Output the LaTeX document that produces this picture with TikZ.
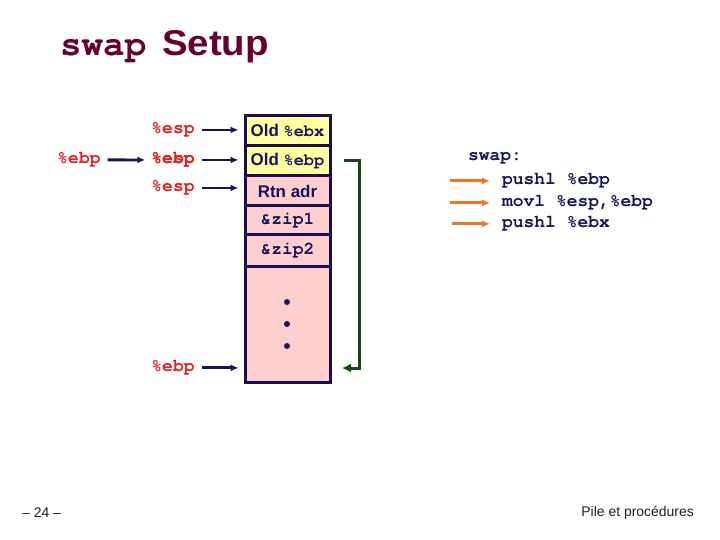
\documentclass[tikz,border=0pt]{standalone}
\usepackage{fontspec}
\setmainfont{Liberation Sans}
\setmonofont{TeX Gyre Cursor}
\usetikzlibrary{arrows.meta}
\definecolor{navy}{RGB}{20,20,90}
\definecolor{boxline}{RGB}{25,15,80}
\definecolor{lblred}{RGB}{228,30,30}
\definecolor{titlemaroon}{RGB}{102,0,51}
\definecolor{cellyellow}{RGB}{255,255,160}
\definecolor{cellpink}{RGB}{255,206,206}
\definecolor{dgreen}{RGB}{20,70,15}
\definecolor{orangearr}{RGB}{232,120,40}
\definecolor{foot}{RGB}{40,25,40}
\begin{document}
\begin{tikzpicture}[x=1bp,y=-1bp,
 cell/.style={draw=boxline, line width=3bp, minimum width=85bp, inner sep=0pt, text=navy,
   font=\fontsize{17}{20}\selectfont\bfseries},
 celltt/.style={font=\fontsize{18}{20}\selectfont\ttfamily\bfseries},
 reg/.style={text=lblred, font=\fontsize{18}{20}\selectfont\ttfamily\bfseries, inner sep=0pt, anchor=mid},
 regarrow/.style={draw=navy, line width=2.8bp, -{Latex[length=8bp,width=7bp]}},
 garrow/.style={draw=dgreen, line width=3bp, -{Latex[length=9bp,width=9bp]}},
 oarrow/.style={draw=orangearr, line width=3bp, -{Latex[length=8bp,width=7bp]}},
 code/.style={text=navy, font=\fontsize{18}{20}\selectfont\ttfamily\bfseries, anchor=mid west, inner sep=0pt},
 dot/.style={circle, fill=navy, inner sep=0pt, minimum size=6bp},
 foottext/.style={text=foot, font=\fontsize{14}{16}\selectfont, inner sep=0pt},
 titletext/.style={text=titlemaroon, inner sep=0pt, anchor=base west}
]
\useasboundingbox (0,0) rectangle (720,540);

% title
\node[titletext, font=\fontsize{36}{40}\selectfont\ttfamily\bfseries] (title1) at (60,56) {swap};
\node[titletext, font=\fontsize{36}{40}\selectfont\bfseries, xscale=1.07] (title2) at (162,56) {Setup};

% stack cells
\node[cell, fill=cellyellow, minimum height=30bp] (c1) at (287.5,131) {Old {\ttfamily\%ebx}};
\node[cell, fill=cellyellow, minimum height=30bp] (c2) at (287.5,161) {Old {\ttfamily\%ebp}};
\node[cell, fill=cellpink, minimum height=30bp] (c3) at (287.5,191) {Rtn adr};
\node[cell, celltt, fill=cellpink, minimum height=29bp] (c4) at (287.5,220.5) {\&zip1};
\node[cell, celltt, fill=cellpink, minimum height=32bp] (c5) at (287.5,251) {\&zip2};
\node[cell, fill=cellpink, minimum height=115bp] (c6) at (287.5,324.5) {};
\node[dot] (d1) at (287,302) {};
\node[dot] (d2) at (287,324) {};
\node[dot] (d3) at (287,346) {};

% register labels
\node[reg] (esp1) at (173,131) {\%esp};
\node[reg] (ebpold) at (173,161) {\%ebp};
\node[reg] (espmid) at (173,161) {\%esp};
\node[reg] (esp3) at (173,189) {\%esp};
\node[reg] (ebpleft) at (79,161) {\%ebp};
\node[reg] (ebpbot) at (173,369) {\%ebp};

\draw[regarrow, shorten <=7bp, shorten >=5bp] (esp1.east) -- (esp1.east -| c1.west);
\draw[regarrow, shorten <=7bp, shorten >=5bp] (espmid.east) -- (espmid.east -| c2.west);
\draw[regarrow, shorten <=7bp, shorten >=5bp] (esp3.east) -- (esp3.east -| c3.west);
\draw[regarrow, shorten <=7bp, shorten >=6bp] (ebpleft.east) -- (espmid.west);
\draw[regarrow, shorten <=7bp, shorten >=5bp] (ebpbot.east) -- (ebpbot.east -| c6.west);

% green link
\coordinate (gstart) at ([xshift=12bp]c2.east);
\coordinate (gcorner) at (359,368);
\coordinate (gend) at (342,368);
\draw[garrow] (gstart) -| (gcorner) -- (gend);

% code
\node[code] (swapl) at (468,158) {swap:};
\node[code] (p1) at (502,182) {pushl \%ebp};
\node[code] (p2) at (502,204) {movl \%esp,\%ebp};
\node[code] (p3) at (502,225) {pushl \%ebx};
\draw[oarrow] ([xshift=-52bp]p1.west) -- ([xshift=-12bp]p1.west);
\draw[oarrow] ([xshift=-52bp]p2.west) -- ([xshift=-12bp]p2.west);
\draw[oarrow] ([xshift=-50bp]p3.west) -- ([xshift=-12bp]p3.west);

% footer
\node[foottext, anchor=mid west] (pg) at (22,515) {– 24 –};
\node[foottext, anchor=mid east] (ft) at (694,514) {Pile et procédures};
\end{tikzpicture}
\end{document}
